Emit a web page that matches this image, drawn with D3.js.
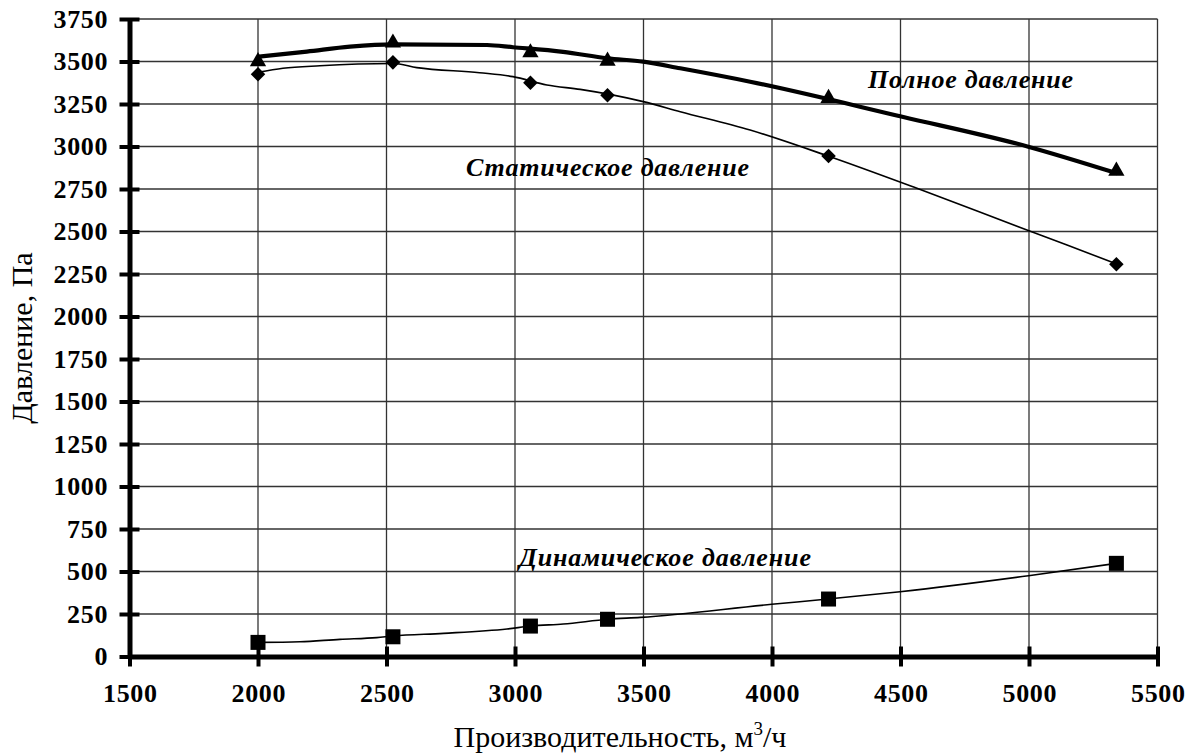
<!DOCTYPE html>
<html><head><meta charset="utf-8">
<script src="https://cdn.jsdelivr.net/npm/d3@7"></script>
<style>html,body{margin:0;padding:0;background:#fff;}svg{display:block;}</style>
</head><body>
<svg id="chart" width="1201" height="755"></svg>
<script>
// ---- data ----
const flowX = [2000, 2525, 3060, 3360, 4220, 5340];
const totalPressure = [3500, 3610, 3552, 3503, 3284, 2856];
const staticPressure = [3425, 3495, 3375, 3301, 2944, 2307];
const dynamicPressure = [83, 116, 179, 219, 338, 548];

const totalTrendX = [2000, 2190, 2358, 2526, 2891, 2992, 3187, 3359, 3499, 3643, 3915, 4507, 4997, 5343];
const totalTrendY = [3528, 3558, 3587, 3601, 3597, 3584, 3557, 3519, 3499, 3460, 3381, 3175, 2999, 2842];
const staticTrendX = [2000, 2097, 2241, 2526, 2618, 2862, 2992, 3124, 3254, 3499, 3643, 3915, 4218, 4564, 4992, 5148, 5340];
const staticTrendY = [3436, 3460, 3475, 3488, 3464, 3434, 3411, 3362, 3336, 3264, 3205, 3097, 2944, 2754, 2509, 2421, 2309];
const dynamicTrendX = [2000, 2163, 2319, 2462, 2526, 2722, 2969, 3063, 3188, 3362, 3488, 3999, 4218, 4498, 4998, 5340];
const dynamicTrendY = [83, 87, 101, 111, 121, 136, 162, 179, 191, 219, 230, 307, 338, 381, 475, 548];

const xTicks = [1500, 2000, 2500, 3000, 3500, 4000, 4500, 5000, 5500];
const yTicks = [0, 250, 500, 750, 1000, 1250, 1500, 1750, 2000, 2250, 2500, 2750, 3000, 3250, 3500, 3750];

const seriesLabels = ["Полное давление", "Статическое давление", "Динамическое давление"];
const xTitle = "Производительность, м";
const yTitle = "Давление, Па";

// ---- drawing ----
const svg = d3.select("#chart");
const x = d3.scaleLinear().domain([1500, 5500]).range([129.5, 1157.5]);
const y = d3.scaleLinear().domain([0, 3750]).range([656.5, 19]);
const serif = "'Liberation Serif','Times New Roman',serif";

// grid
const grid = svg.append("g").attr("stroke", "#333").attr("stroke-width", 1.3);
grid.selectAll("line.h").data(yTicks.filter(d => d > 0)).join("line")
  .attr("x1", x(1500)).attr("x2", x(5500)).attr("y1", d => y(d)).attr("y2", d => y(d));
grid.selectAll("line.v").data(xTicks.filter(d => d > 1500)).join("line")
  .attr("x1", d => x(d)).attr("x2", d => x(d)).attr("y1", y(0)).attr("y2", y(3750));

// axes
const xAxis = d3.axisBottom(x).tickValues(xTicks).tickSizeInner(10).tickSizeOuter(0).tickFormat(d3.format("d"));
const gx = svg.append("g").attr("transform", `translate(0,${y(0)})`).call(xAxis);
gx.select(".domain").attr("stroke", "#000").attr("stroke-width", 5);
gx.selectAll(".tick line").attr("stroke", "#000").attr("stroke-width", 4).attr("y1", -10).attr("y2", 10);
gx.selectAll(".tick text").attr("y", 27).attr("dy", "0.71em")
  .attr("font-family", serif).attr("font-weight", "bold").attr("font-size", 26)
  .attr("textLength", d => String(d).length * 13.5).attr("lengthAdjust", "spacing").attr("fill", "#000");

const yAxis = d3.axisLeft(y).tickValues(yTicks).tickSizeInner(10).tickSizeOuter(0).tickFormat(d3.format("d"));
const gy = svg.append("g").attr("transform", `translate(${x(1500)},0)`).call(yAxis);
gy.select(".domain").attr("stroke", "#000").attr("stroke-width", 5);
gy.selectAll(".tick line").attr("stroke", "#000").attr("stroke-width", 4).attr("x1", -10).attr("x2", 10);
gy.selectAll(".tick text").attr("x", -22)
  .attr("font-family", serif).attr("font-weight", "bold").attr("font-size", 26)
  .attr("textLength", d => String(d).length * 13.5).attr("lengthAdjust", "spacing").attr("fill", "#000");

// trend lines
const line = d3.line().x(d => x(d[0])).y(d => y(d[1])).curve(d3.curveMonotoneX);
svg.append("path").datum(d3.zip(totalTrendX, totalTrendY)).attr("d", line)
  .attr("fill", "none").attr("stroke", "#000").attr("stroke-width", 4.2).attr("stroke-linejoin", "round");
svg.append("path").datum(d3.zip(staticTrendX, staticTrendY)).attr("d", line)
  .attr("fill", "none").attr("stroke", "#000").attr("stroke-width", 1.6);
svg.append("path").datum(d3.zip(dynamicTrendX, dynamicTrendY)).attr("d", line)
  .attr("fill", "none").attr("stroke", "#000").attr("stroke-width", 1.6);

// markers
svg.append("g").selectAll("path").data(d3.zip(flowX, totalPressure)).join("path")
  .attr("d", d3.symbol().type(d3.symbolTriangle).size(115))
  .attr("transform", d => `translate(${x(d[0])},${y(d[1])})`).attr("fill", "#000");
svg.append("g").selectAll("path").data(d3.zip(flowX, staticPressure)).join("path")
  .attr("d", d3.symbol().type(d3.symbolDiamond2).size(135))
  .attr("transform", d => `translate(${x(d[0])},${y(d[1])})`).attr("fill", "#000");
svg.append("g").selectAll("rect").data(d3.zip(flowX, dynamicPressure)).join("rect")
  .attr("x", d => x(d[0]) - 7.5).attr("y", d => y(d[1]) - 7.5).attr("width", 15).attr("height", 15).attr("fill", "#000");

// series labels
const labelPos = [[868, 88, 205], [466, 176, 283], [519, 566, 292]];
svg.append("g").selectAll("text").data(seriesLabels).join("text")
  .attr("x", (d, i) => labelPos[i][0]).attr("y", (d, i) => labelPos[i][1])
  .attr("textLength", (d, i) => labelPos[i][2]).attr("lengthAdjust", "spacing")
  .attr("font-family", serif).attr("font-weight", "bold").attr("font-style", "italic")
  .attr("font-size", 26).attr("fill", "#000").text(d => d);

// axis titles
const xt = svg.append("text").attr("x", 620).attr("y", 747).attr("text-anchor", "middle")
  .attr("font-family", serif).attr("font-size", 30).attr("fill", "#000");
xt.append("tspan").text(xTitle);
xt.append("tspan").attr("dy", -12).attr("font-size", 19).text("3");
xt.append("tspan").attr("dy", 12).text("/ч");

svg.append("text").attr("transform", "translate(32,338) rotate(-90)").attr("text-anchor", "middle")
  .attr("font-family", serif).attr("font-size", 30).attr("fill", "#000").text(yTitle);
</script>
</body></html>
